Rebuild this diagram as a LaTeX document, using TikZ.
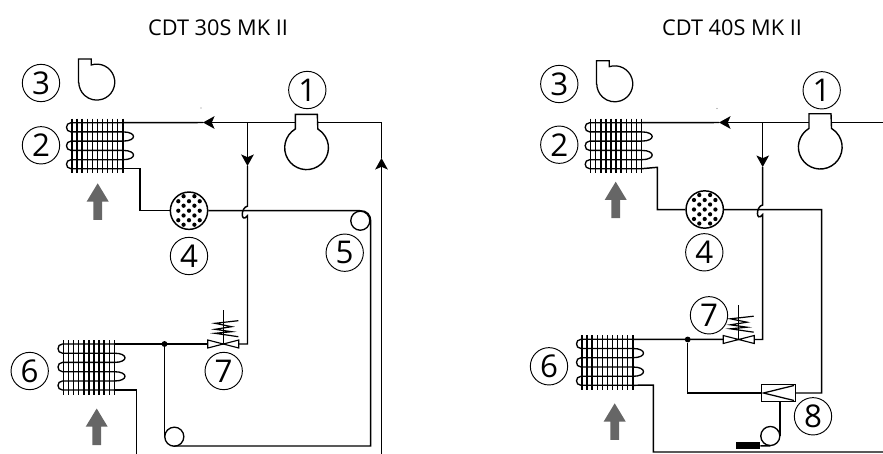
\documentclass[tikz,border=0pt]{standalone}
\usepackage{fontspec}
\setmainfont{Open Sans}
\usetikzlibrary{arrows.meta,calc}
\definecolor{airgrey}{HTML}{666666}
\tikzset{
  x=0.75pt,y=-0.75pt,
  pipe/.style={line width=1.1pt,line join=miter},
  thin pipe/.style={line width=1pt},
  flow/.style={line width=1.1pt,-{Stealth[length=8.6pt,width=9.4pt,inset=2pt]}},
  tag/.style={draw,circle,line width=0.7pt,minimum size=28pt,inner sep=0pt,font=\fontsize{23.5}{24}\selectfont,text=black},
  title/.style={font=\fontsize{16.3}{18}\selectfont},
  filterring/.style={draw,circle,line width=1.1pt,minimum size=28pt,inner sep=0pt},
  receiver/.style={draw,circle,line width=1pt,minimum size=14.3pt,inner sep=0pt},
  filled dot/.style={fill=black,circle,inner sep=0pt,minimum size=4.4pt},
  pics/coil/.style={code={
    \foreach \i in {0,...,10} \draw[line width=1.05pt] (\i*5.08,-4) -- (\i*5.08,50.5);
    \draw[thin pipe] (51,0) -- (-1,0) .. controls (-7,0) and (-7,9.2) .. (-1,9.2) -- (51,9.2)
      .. controls (65,9.2) and (65,18.4) .. (51,18.4) -- (-1,18.4)
      .. controls (-7,18.4) and (-7,27.7) .. (-1,27.7) -- (51,27.7)
      .. controls (65,27.7) and (65,37) .. (51,37) -- (-1,37)
      .. controls (-7,37) and (-7,46) .. (-1,46) -- (51,46);
    \coordinate (-in) at (51,0);
    \coordinate (-out) at (51,46);
  }},
  pics/fan/.style={code={
    \draw[line width=0.95pt] (0,24) -- (0,0) -- (12.7,0) -- (12.7,6) arc[start angle=108,end angle=-180,radius=13.5pt];
  }},
  pics/compressor/.style={code={
    \draw[line width=1.05pt,fill=white] (-11,-33) -- (-11,-18.3) arc[start angle=121,end angle=419,radius=16.4pt] -- (11,-33) -- cycle;
  }},
  pics/valve/.style={code={
    \draw[line width=0.85pt,fill=white] (0,0) -- (-15.5,-4) -- (-15.5,4) -- cycle;
    \draw[line width=0.85pt,fill=white] (0,0) -- (15.5,-4) -- (15.5,4) -- cycle;
    \draw[line width=0.85pt] (0,0) -- (0,-34.5);
    \draw[line width=0.9pt] (15,-23.3) -- (-8.3,-20.7) -- (8.3,-17.3) -- (-8.3,-14.7) -- (8.3,-12.3) -- (-8.3,-10.7) -- (15,-7.3);
  }},
  pics/uparrow/.style={code={
    \fill[airgrey] (0,0) -- (11,18.2) -- (4.4,18.2) -- (4.4,36.5) -- (-4.4,36.5) -- (-4.4,18.2) -- (-11,18.2) -- cycle;
  }},
  pics/dots/.style={code={
    \foreach \a/\b in {-5.4/-14.5,5.4/-14.5,-10.7/-9.5,0/-9.5,10.7/-9.5,-5.4/-5,5.4/-5,-10.7/0,0/0,10.7/0,-5.4/4.8,5.4/4.8,-10.7/9.5,0/9.5,10.7/9.5,-5.4/14,5.4/14}
      \fill (\a,\b) circle[radius=1.6pt];
  }},
}
\begin{document}
\begin{tikzpicture}
\useasboundingbox (0,0) rectangle (883,454);
% ------ titles
\node[title] (titleA) at (218,28) {CDT 30S MK II};
\node[title] (titleB) at (732,28) {CDT 40S MK II};
% ------ left panel
\coordinate (aSw) at (381.5,122.5);
\coordinate (aSj) at (247.5,122.5);
\coordinate (aTipL) at (203,122.5);
\coordinate (aTipD) at (247.5,166);
\coordinate (aTipU) at (381.5,158);
\coordinate (aEnd) at (381.5,454);
\coordinate (aB1) at (247.5,206.2);
\coordinate (aB2) at (247.5,215.7);
\coordinate (aV) at (247.5,344);
\coordinate (aC1) at (140,168.7);
\coordinate (aC2) at (140,210.7);
\coordinate (aR1) at (360,210.7);
\coordinate (aR2) at (370.7,221);
\coordinate (aLow) at (370.7,446);
\coordinate (aS1) at (164.5,436);
\coordinate (aSt) at (174.3,446);
\coordinate (aE1) at (136.7,390);
\coordinate (aE2) at (136.7,454);
\pic (coilA) at (72,122.7) {coil};
\pic (coilC) at (63.5,344) {coil};
\pic at (78.5,59) {fan};
\node[tag] (a3) at (41,83) {3};
\node[tag] (a2) at (41,145.3) {2};
\node[tag] (a1) at (307.3,90) {1};
\node[tag] (a5) at (344.7,252.7) {5};
\node[tag] (a4) at (189,256) {4};
\node[tag] (a6) at (29.7,371) {6};
\node[tag] (a7) at (223.7,371) {7};
\node[filterring] (filterA) at (189,210.7) {};
\node[receiver] (recA) at (360.3,220.7) {};
\node[receiver] (recC) at (174.3,436.7) {};
\node[filled dot] (dotA) at (164.5,344) {};
\coordinate (aVal) at (223.3,344);
\draw[pipe] (aTipL) -- (coilA-in);
\draw[flow] (aSj) -- (aTipL);
\draw[pipe] (aSj) -- (aSw) -- (aTipU);
\draw[flow] (aEnd) -- (aTipU);
\draw[flow] (aSj) -- (aTipD);
\draw[pipe] (aTipD) -- (aB1) .. controls +(-7,1) and +(-7,8.5) .. (aB2) -- (aV) -- (aVal);
\draw[pipe] (coilA-out) -- (aC1) -- (aC2) -- (filterA);
\draw[pipe] (filterA) -- (aR1) .. controls +(7,0) and +(0,-6) .. (aR2) -- (aLow) -- (aSt);
\draw[pipe] (coilC-in) -- (aVal);
\draw[pipe] (coilC-out) -- (aE1) -- (aE2);
\draw[pipe] (dotA) -- (aS1);
\pic at (306.3,147.3) {compressor};
\pic at (189,210.7) {dots};
\pic at (aVal) {valve};
\pic at (97.7,183.3) {uparrow};
\pic at (96.7,408.5) {uparrow};
% ------ right panel
\coordinate (bSw) at (883,122.5);
\coordinate (bSj) at (762.7,122.5);
\coordinate (bTipL) at (719,122.5);
\coordinate (bTipD) at (762.7,167);
\coordinate (bB1) at (762.7,205);
\coordinate (bB2) at (762.7,214.5);
\coordinate (bV) at (762.7,339.5);
\coordinate (bC1) at (657.3,167.3);
\coordinate (bC2) at (657.3,209.7);
\coordinate (bR1) at (821.7,209.7);
\coordinate (bR2) at (821.7,393);
\coordinate (bE1) at (653.3,385);
\coordinate (bE2) at (653.3,452);
\coordinate (bE3) at (883,452);
\coordinate (bT1) at (687.7,393);
\coordinate (bTB) at (780,401.5);
\coordinate (bTC) at (780,436);
\coordinate (bTS) at (770.3,446);
\pic (coilB) at (590.7,122.7) {coil};
\pic (coilD) at (582,339.3) {coil};
\pic at (596.5,60.7) {fan};
\node[tag] (b3) at (559.3,84) {3};
\node[tag] (b2) at (559.3,144.7) {2};
\node[tag] (b1) at (821.7,90.3) {1};
\node[tag] (b4) at (704.3,252.3) {4};
\node[tag] (b6) at (549,366.3) {6};
\node[tag] (b7) at (709,315.3) {7};
\node[tag] (b8) at (813,416.3) {8};
\node[filterring] (filterB) at (704.7,209.5) {};
\node[receiver] (recD) at (770.3,436) {};
\node[filled dot] (dotB) at (687.7,339.5) {};
\node[draw,line width=1.1pt,minimum width=25.5pt,minimum height=13pt,inner sep=0pt] (box) at (778.3,393) {};
\node[fill=black,inner sep=0pt,minimum width=18.4pt,minimum height=5.2pt] (block) at (747.8,445.5) {};
\coordinate (bVal) at (738.7,339.5);
\draw[pipe] (bTipL) -- (coilB-in);
\draw[flow] (bSj) -- (bTipL);
\draw[pipe] (bSj) -- (bSw);
\draw[flow] (bSj) -- (bTipD);
\draw[pipe] (bTipD) -- (bB1) .. controls +(-7,1) and +(-7,8.5) .. (bB2) -- (bV) -- (bVal);
\draw[pipe] (coilB-out) -- (bC1) -- (bC2) -- (filterB);
\draw[pipe] (filterB) -- (bR1) -- (bR2) -- (box);
\draw[pipe] (coilD-in) -- (bVal);
\draw[pipe] (coilD-out) -- (bE1) -- (bE2) -- (bE3);
\draw[pipe] (dotB) -- (bT1) -- (box);
\draw[pipe] (bTB) -- (bTC);
\draw[pipe] (block) -- (bTS);
\draw[line width=0.95pt] (794,385.5) -- (763.5,393) -- (794,400.5);
\pic at (820,146.7) {compressor};
\pic at (704.7,209.5) {dots};
\pic at (bVal) {valve};
\pic at (615.7,181.7) {uparrow};
\pic at (614.7,403.3) {uparrow};
% specks
\fill[gray] (201,108) circle[radius=0.4pt] (717,108.5) circle[radius=0.4pt];
\end{tikzpicture}
\end{document}
